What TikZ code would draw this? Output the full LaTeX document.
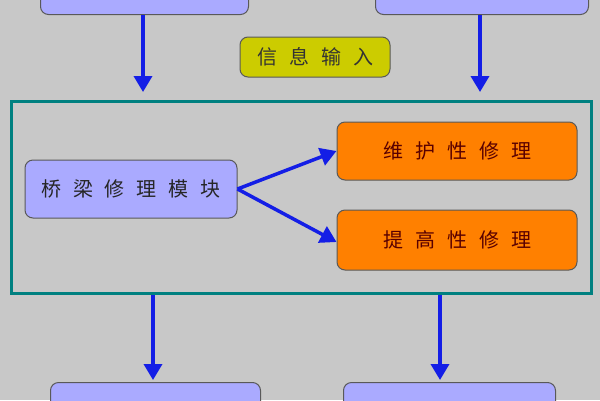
\documentclass[tikz,border=0pt]{standalone}
\usepackage{fontspec}
\newfontfamily\cjk{Noto Sans CJK SC}
\definecolor{bg}{RGB}{200,200,200}
\definecolor{lav}{RGB}{170,170,255}
\definecolor{org}{RGB}{255,128,0}
\definecolor{olv}{RGB}{204,204,0}
\definecolor{teal}{RGB}{0,128,128}
\definecolor{arr}{RGB}{20,30,230}
\usetikzlibrary{arrows.meta}
\tikzset{
 box/.style={draw=gray!70!black, line width=1pt, rounded corners=8pt, font=\cjk\fontsize{20}{24}\selectfont, inner sep=0pt},
 arrow/.style={draw=arr, line width=3.5pt, -{Triangle[length=16pt,width=18pt]}}
}
\newcommand{\gp}{\hspace{0.6em}}
\begin{document}
\begin{tikzpicture}[x=1pt,y=-1pt]
\fill[bg] (0,0) rectangle (600,400);
\useasboundingbox (0,0) rectangle (600,400);
\node[box, fill=lav, minimum width=208pt, minimum height=40pt, anchor=south west] (tl) at (40,15) {};
\node[box, fill=lav, minimum width=213pt, minimum height=40pt, anchor=south west] (tr) at (375,15) {};
\node[box, fill=olv, minimum width=150pt, minimum height=40pt, text=black!80] (info) at (315,57) {信\gp 息\gp 输\gp 入};
\node[draw=teal, line width=3pt, minimum width=580pt, minimum height=192pt, anchor=north west, inner sep=0pt] (frame) at (10,100) {};
\node[box, fill=lav, minimum width=212pt, minimum height=58pt, text=black!85] (mod) at (131,189) {桥\gp 梁\gp 修\gp 理\gp 模\gp 块};
\node[box, fill=org, minimum width=240pt, minimum height=58pt, text=red!35!black] (wh) at (457,151) {维\gp 护\gp 性\gp 修\gp 理};
\node[box, fill=org, minimum width=240pt, minimum height=60pt, text=red!35!black] (tg) at (457,240) {提\gp 高\gp 性\gp 修\gp 理};
\node[box, fill=lav, minimum width=210pt, minimum height=40pt, anchor=north west] (bl) at (50,382) {};
\node[box, fill=lav, minimum width=212pt, minimum height=40pt, anchor=north west] (br) at (343,382) {};
\coordinate (a1) at (143,92); \coordinate (a2) at (480,92);
\draw[arrow] (tl.south -| a1) -- (a1);
\draw[arrow] (tr.south -| a2) -- (a2);
\draw[arrow] (mod.east) -- (wh.west);
\draw[arrow] (mod.east) -- ([yshift=-2pt]tg.west);
\coordinate (b1) at (153,380); \coordinate (b2) at (440,380);
\draw[arrow] (frame.south -| b1) -- (b1);
\draw[arrow] (frame.south -| b2) -- (b2);
\end{tikzpicture}
\end{document}
